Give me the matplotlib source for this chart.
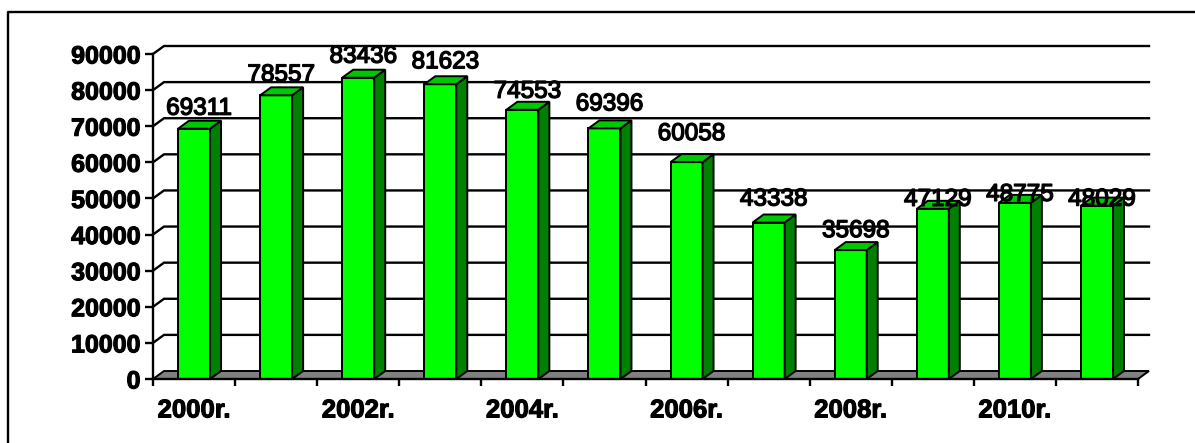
# 3D-style column chart, 2000-2011
import matplotlib
matplotlib.use('Agg')
import matplotlib.pyplot as plt
import matplotlib.patheffects as pe
from matplotlib.patches import Polygon
from matplotlib.lines import Line2D

plt.rcParams['font.family'] = ['Liberation Sans', 'DejaVu Sans']

years = ['2000r.', '2001r.', '2002r.', '2003r.', '2004r.', '2005r.',
         '2006r.', '2007r.', '2008r.', '2009r.', '2010r.', '2011r.']
values = [69311, 78557, 83436, 81623, 74553, 69396,
          60058, 43338, 35698, 47129, 48775, 48029]
y_ticks = [0, 10000, 20000, 30000, 40000, 50000, 60000, 70000, 80000, 90000]

# label baseline offsets above the bar front (pixels), as in the picture
label_offsets = [14, 14, 15, 16, 12, 18, 22, 17, 13, 3, 2, 0]

W, H = 1195, 443
fig = plt.figure(figsize=(W / 100, H / 100), dpi=100)
ax = fig.add_axes([153 / W, 64 / H, 985 / W, 325 / H])

n = len(values)
ax.set_xlim(-0.5, n - 0.5)
ax.set_ylim(0, y_ticks[-1])

# depth of the 3D effect in pixels -> data units
depth_px_x, depth_px_y = 11, 8
dx = depth_px_x * n / 985
dy = depth_px_y * y_ticks[-1] / 325

# floor
floor = Polygon([(-0.5, 0), (n - 0.5, 0), (n - 0.5 + dx, dy), (-0.5 + dx, dy)],
                closed=True, facecolor='#808080', edgecolor='black', lw=1.4,
                clip_on=False, zorder=1)
ax.add_patch(floor)

# back wall gridlines with diagonal on side wall
for v in y_ticks[1:]:
    ax.plot([-0.5, -0.5 + dx, n - 0.5 + dx], [v, v + dy, v + dy],
            color='black', lw=1.7, clip_on=False, zorder=1,
            solid_joinstyle='miter')

# bars
w = 0.39
xs = list(range(n))
ax.bar(xs, values, width=w, color='#00ff00', edgecolor='black', lw=1.4, zorder=3)
for x, v in zip(xs, values):
    side = Polygon([(x + w / 2, 0), (x + w / 2, v), (x + w / 2 + dx, v + dy),
                    (x + w / 2 + dx, dy)], closed=True, facecolor='#008000',
                   edgecolor='black', lw=1.4, zorder=3, clip_on=False)
    top = Polygon([(x - w / 2, v), (x + w / 2, v), (x + w / 2 + dx, v + dy),
                   (x - w / 2 + dx, v + dy)], closed=True, facecolor='#00c800',
                  edgecolor='black', lw=1.4, zorder=3, clip_on=False)
    ax.add_patch(side)
    ax.add_patch(top)

# data labels
for x, v, off in zip(xs, values, label_offsets):
    ax.annotate(str(v), xy=(x, v), xytext=(5, off), textcoords='offset pixels',
                ha='center', va='baseline', fontsize=17.5, zorder=5,
                annotation_clip=False,
                path_effects=[pe.withStroke(linewidth=1.0, foreground='black')])

# axes styling
for s in ['top', 'right']:
    ax.spines[s].set_visible(False)
ax.spines['left'].set_linewidth(1.7)
ax.spines['bottom'].set_linewidth(1.7)
ax.spines['left'].set_zorder(2)
ax.spines['bottom'].set_zorder(4)
ax.patch.set_visible(False)

bold_fx = [pe.withStroke(linewidth=0.8, foreground='black')]

ax.set_yticks(y_ticks)
ax.set_yticklabels([str(t) for t in y_ticks], fontsize=18, fontweight='bold')
ax.tick_params(axis='y', length=6, width=1.7, pad=3)

ax.set_xticks(xs[::2])
ax.set_xticklabels(years[::2], fontsize=18.5, fontweight='bold')
ax.set_xticks([i - 0.5 for i in range(n + 1)], minor=True)
ax.tick_params(axis='x', which='major', length=0, pad=14)
ax.tick_params(axis='x', which='minor', length=5, width=1.7)

for lab in ax.get_xticklabels() + ax.get_yticklabels():
    lab.set_path_effects(bold_fx)

# chart area border (clipped at right and bottom)
fig.add_artist(Line2D([8 / W, 8 / W, 1.01], [-0.01, 1 - 12 / H, 1 - 12 / H],
                      transform=fig.transFigure, color='black', lw=1.7))

fig.savefig('out.png', dpi=100)
